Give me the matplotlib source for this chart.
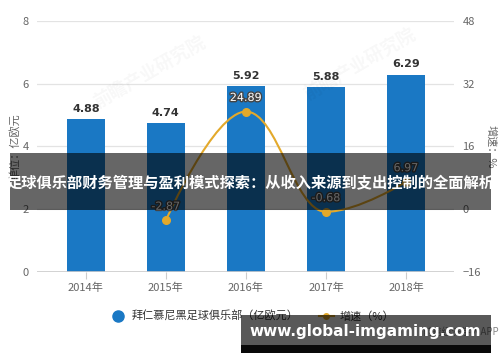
import matplotlib
matplotlib.use("Agg")
import matplotlib.pyplot as plt
import matplotlib.patheffects as pe
from matplotlib.path import Path
from matplotlib.patches import PathPatch, Rectangle
from matplotlib.lines import Line2D

plt.rcParams['font.family'] = ['Noto Sans CJK SC', 'DejaVu Sans']

years = ['2014年', '2015年', '2016年', '2017年', '2018年']
revenue = [4.88, 4.74, 5.92, 5.88, 6.29]
growth_years = [1, 2, 3, 4]
growth = [-2.87, 24.89, -0.68, 6.97]

title = '足球俱乐部财务管理与盈利模式探索：从收入来源到支出控制的全面解析'
site = 'www.global-imgaming.com'

blue = '#1a78c4'
gold = '#e3a92b'
grey = '#666666'

fig = plt.figure(figsize=(5, 3.62), dpi=100)
ax = fig.add_axes([0.074, 0.249, 0.834, 0.693])
ax2 = ax.twinx()

x = range(len(years))
ax.bar(x, revenue, width=0.47, color=blue, zorder=2)
for i, v in enumerate(revenue):
    ax.text(i, v + 0.17, f'{v:.2f}', ha='center', va='bottom', fontsize=8,
            fontweight='bold', color='#333333', family='DejaVu Sans')

ax.set_ylim(0, 8)
ax.set_yticks([0, 2, 4, 6, 8])
ax.set_xlim(-0.61, 4.6)
ax.set_xticks(list(x))
ax.set_xticklabels(years)
ax.grid(axis='y', color='#e3e3e3', lw=0.9, zorder=0)
ax.set_axisbelow(True)
for s in ax.spines.values():
    s.set_visible(False)
ax.axhline(0, color='#cccccc', lw=1.2, zorder=3)
ax.tick_params(axis='x', length=5, color='#cccccc', labelsize=8, labelcolor=grey, pad=3)
ax.tick_params(axis='y', length=0, labelsize=8, labelcolor=grey, pad=6)
ax.set_ylabel('单位：亿欧元', fontsize=8, color=grey, labelpad=2)

ax2.set_ylim(-16, 48)
ax2.set_yticks([-16, 0, 16, 32, 48])
for s in ax2.spines.values():
    s.set_visible(False)
ax2.tick_params(axis='y', length=0, labelsize=8, labelcolor=grey, pad=6)
ax2.set_ylabel('增速：%', fontsize=8, color=grey, rotation=270, labelpad=11)

# smooth spline like the original chart
verts = [(growth_years[0], growth[0])]
codes = [Path.MOVETO]
n = len(growth)
for i in range(n - 1):
    x0, y0 = growth_years[i], growth[i]
    x1, y1 = growth_years[i + 1], growth[i + 1]
    c1 = (x0, y0) if i == 0 else (x0 + 0.4, y0)
    c2 = (x1, y1) if i == n - 2 else (x1 - 0.4, y1)
    verts += [c1, c2, (x1, y1)]
    codes += [Path.CURVE4] * 3
ax2.add_patch(PathPatch(Path(verts, codes), fill=False, edgecolor=gold, lw=1.5, zorder=4))
ax2.scatter(growth_years, growth, s=30, color=gold, zorder=5)
for xi, g in zip(growth_years, growth):
    ax2.text(xi, g + 2.2, f'{g:.2f}', ha='center', va='bottom', fontsize=8,
             color='white', family='DejaVu Sans',
             path_effects=[pe.withStroke(linewidth=2, foreground='#444444')], zorder=6)

# faint watermarks
for wx, wy in [(0.3, 0.8), (0.72, 0.82)]:
    fig.text(wx, wy, '前瞻产业研究院', fontsize=13, fontweight='bold', color='#000000',
             alpha=0.03, rotation=30, ha='center', va='center')

handles = [Line2D([], [], marker='o', ls='none', color=blue, markersize=8),
           Line2D([], [], marker='o', color=gold, lw=1.5, markersize=4)]
fig.legend(handles, ['拜仁慕尼黑足球俱乐部（亿欧元）', '增速（%）'], loc='center',
           bbox_to_anchor=(0.505, 0.127), ncol=2, frameon=False, fontsize=8,
           labelcolor='#333333', handlelength=1.4, columnspacing=1.8, handletextpad=0.5)

fig.text(0.999, 0.083, '前瞻经济学人APP', ha='right', va='center', fontsize=7, color='#888888')

# overlay title band
fig.patches.append(Rectangle((0.02, 0.42), 0.962, 0.157, transform=fig.transFigure,
                             facecolor='black', alpha=0.6, zorder=10))
fig.text(0.5, 0.495, title, ha='center', va='center', fontsize=11, fontweight='bold',
         color='white', zorder=11)

# site banner
fig.patches.append(Rectangle((0.482, 0.025), 0.5, 0.105, transform=fig.transFigure,
                             facecolor='black', alpha=0.65, zorder=10))
fig.patches.append(Rectangle((0.482, 0.025), 0.5, 0.022, transform=fig.transFigure,
                             facecolor='black', alpha=0.9, zorder=10))
fig.text(0.73, 0.083, site, ha='center', va='center', fontsize=11, fontweight='bold',
         color='white', family='DejaVu Sans', zorder=11)

fig.savefig('out.png', dpi=100)
